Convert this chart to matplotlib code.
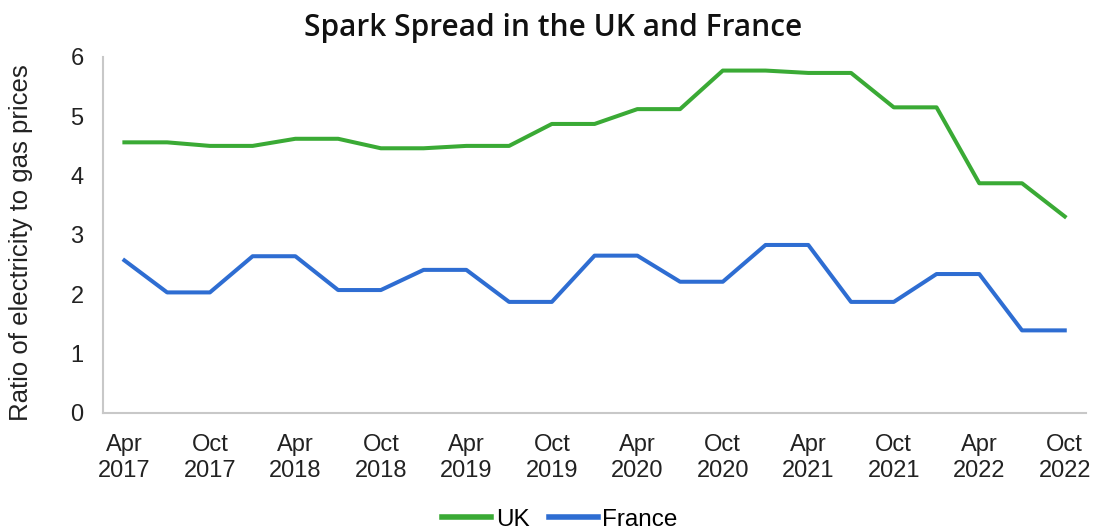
import matplotlib
matplotlib.use("Agg")
import matplotlib.pyplot as plt

quarters = ["Apr\n2017", "Jul 2017", "Oct\n2017", "Jan 2018", "Apr\n2018", "Jul 2018",
            "Oct\n2018", "Jan 2019", "Apr\n2019", "Jul 2019", "Oct\n2019", "Jan 2020",
            "Apr\n2020", "Jul 2020", "Oct\n2020", "Jan 2021", "Apr\n2021", "Jul 2021",
            "Oct\n2021", "Jan 2022", "Apr\n2022", "Jul 2022", "Oct\n2022"]
uk = [4.56, 4.56, 4.50, 4.50, 4.62, 4.62, 4.46, 4.46, 4.50, 4.50, 4.87, 4.87,
      5.12, 5.12, 5.77, 5.77, 5.73, 5.73, 5.15, 5.15, 3.87, 3.87, 3.31]
france = [2.57, 2.03, 2.03, 2.64, 2.64, 2.07, 2.07, 2.41, 2.41, 1.87, 1.87, 2.65,
          2.65, 2.21, 2.21, 2.83, 2.83, 1.87, 1.87, 2.34, 2.34, 1.39, 1.39]
yticks = [0, 1, 2, 3, 4, 5, 6]

plt.rcParams['font.family'] = ['Liberation Sans', 'DejaVu Sans']

fig = plt.figure(figsize=(10.96, 5.32), dpi=100)
ax = fig.add_axes([0.094, 0.224, 0.897, 0.669])

x = list(range(len(quarters)))
ax.plot(x, uk, color="#3AAA35", lw=2.9, label="UK", solid_joinstyle="round")
ax.plot(x, france, color="#2E6DD2", lw=2.9, label="France", solid_joinstyle="round")

ax.set_xlim(-0.5, len(quarters) - 0.5)
ax.set_ylim(0, 6)
ax.set_yticks(yticks)
ax.set_yticklabels([str(v) for v in yticks], fontsize=17, color="#222222")
ax.set_xticks(x[::2])
ax.set_xticklabels(quarters[::2], fontsize=17, color="#222222", linespacing=1.25)
ax.tick_params(axis="both", length=0)
ax.tick_params(axis="y", pad=14)
ax.tick_params(axis="x", pad=15)

for s in ["top", "right"]:
    ax.spines[s].set_visible(False)
for s in ["left", "bottom"]:
    ax.spines[s].set_color("#C8C8C8")
    ax.spines[s].set_linewidth(1.5)

ax.set_ylabel("Ratio of electricity to gas prices", fontsize=18.5, color="#222222")
ax.yaxis.set_label_coords(-0.071, 0.478)
fig.text(0.505, 0.947, "Spark Spread in the UK and France", ha="center", va="center",
         fontsize=21.5, family=["Open Sans", "DejaVu Sans"], fontweight="semibold",
         color="#111111")

leg = ax.legend(loc="center", bbox_to_anchor=(0.465, -0.30), ncol=2, frameon=False,
                fontsize=17.5, handlelength=2.0, handletextpad=0.2, columnspacing=0.8)
for h in leg.get_lines():
    h.set_linewidth(4)

fig.savefig("out.png", dpi=100, facecolor="white")
